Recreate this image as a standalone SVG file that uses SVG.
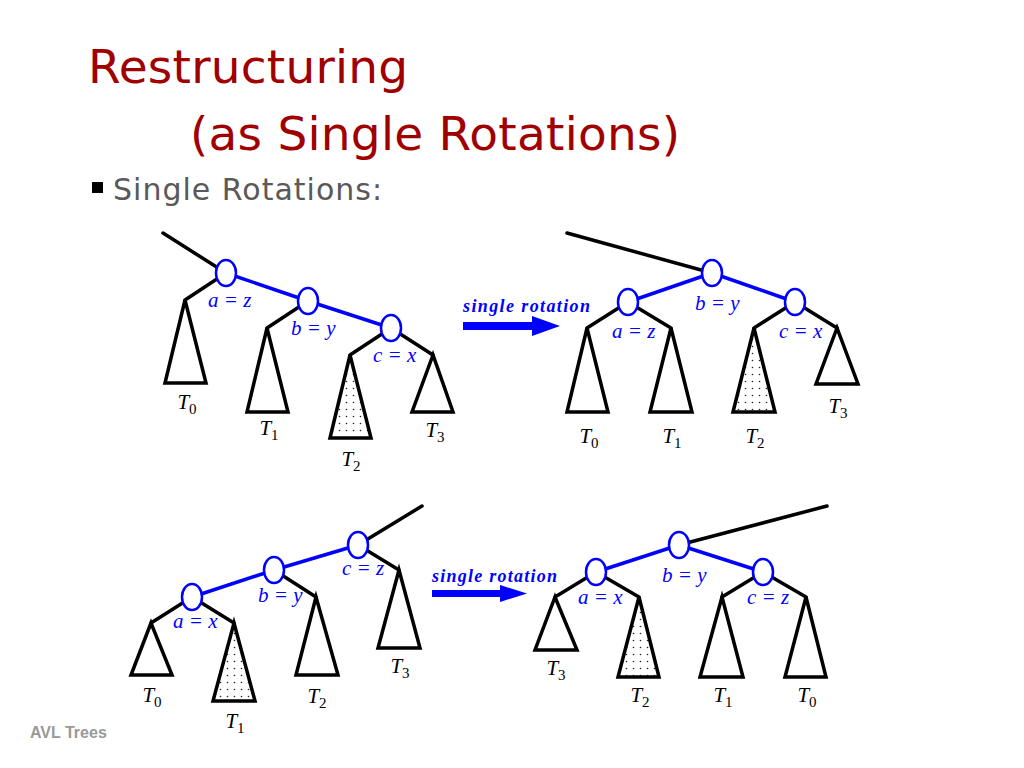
<svg xmlns="http://www.w3.org/2000/svg" width="1024" height="768" viewBox="0 0 1024 768">
<defs>
<pattern id="dots" width="7" height="7" patternUnits="userSpaceOnUse">
<rect width="7" height="7" fill="#ffffff"/>
<circle cx="3.5" cy="3.5" r="0.8" fill="#222222"/>
</pattern>
<style>
.title{font-family:"DejaVu Sans","Open Sans",sans-serif;fill:#A00000;font-size:47px}
.bullet{font-family:"DejaVu Sans","Open Sans",sans-serif;fill:#595959;font-size:30px}
.foot{font-family:"Liberation Sans",Arial,sans-serif;font-weight:bold;fill:#999999;font-size:16px}
.blk{stroke:#000;stroke-width:3.5;fill:none;stroke-linecap:round}
.blu{stroke:#0000ff;stroke-width:3.5;fill:none}
.tri{stroke:#000;stroke-width:3.5;fill:#fff;stroke-linejoin:miter}
.dot{stroke:#000;stroke-width:3.5;fill:url(#dots)}
.node{stroke:#0000ff;stroke-width:2.5;fill:#fff}
.lab{font-family:"Liberation Serif","Times New Roman",serif;font-style:italic;fill:#0000ff;font-size:21px}
.tl{font-family:"Liberation Serif","Times New Roman",serif;fill:#000;font-size:21px;text-anchor:middle}
.tl .s{font-size:15px;font-style:normal}
.rot{font-family:"Liberation Serif","Times New Roman",serif;font-style:italic;font-weight:bold;fill:#0000ff;font-size:18px}
.arr{fill:#0000ff}
</style>
</defs>
<rect width="1024" height="768" fill="#ffffff"/>

<text class="title" x="88" y="83" textLength="320">Restructuring</text>
<text class="title" x="190" y="150" textLength="490">(as Single Rotations)</text>
<rect x="92" y="182" width="11" height="11" fill="#000"/>
<text class="bullet" x="113" y="200" textLength="269">Single Rotations:</text>
<text class="foot" x="30" y="738">AVL Trees</text>

<g id="connectors">
<!-- top-left -->
<line class="blk" x1="163" y1="233" x2="226" y2="273"/>
<line class="blk" x1="226" y1="273" x2="185" y2="300"/>
<line class="blk" x1="308" y1="301" x2="267" y2="328"/>
<line class="blk" x1="391" y1="328" x2="350" y2="355"/>
<line class="blk" x1="391" y1="328" x2="433" y2="355"/>
<line class="blu" x1="226" y1="273" x2="308" y2="301"/>
<line class="blu" x1="308" y1="301" x2="391" y2="328"/>
<!-- top-right -->
<line class="blk" x1="567" y1="233" x2="712" y2="273"/>
<line class="blk" x1="628" y1="302" x2="587" y2="328"/>
<line class="blk" x1="628" y1="302" x2="671" y2="328"/>
<line class="blk" x1="795" y1="302" x2="754" y2="328"/>
<line class="blk" x1="795" y1="302" x2="837" y2="328"/>
<line class="blu" x1="712" y1="273" x2="628" y2="302"/>
<line class="blu" x1="712" y1="273" x2="795" y2="302"/>
<!-- bottom-left -->
<line class="blk" x1="358" y1="545" x2="422" y2="506"/>
<line class="blk" x1="192" y1="597" x2="151" y2="623"/>
<line class="blk" x1="192" y1="597" x2="234" y2="623"/>
<line class="blk" x1="274" y1="570" x2="316" y2="597"/>
<line class="blk" x1="358" y1="545" x2="399" y2="570"/>
<line class="blu" x1="192" y1="597" x2="274" y2="570"/>
<line class="blu" x1="274" y1="570" x2="358" y2="545"/>
<!-- bottom-right -->
<line class="blk" x1="679" y1="545" x2="827" y2="506"/>
<line class="blk" x1="596" y1="572" x2="555" y2="597"/>
<line class="blk" x1="596" y1="572" x2="639" y2="597"/>
<line class="blk" x1="763" y1="572" x2="722" y2="597"/>
<line class="blk" x1="763" y1="572" x2="806" y2="597"/>
<line class="blu" x1="679" y1="545" x2="596" y2="572"/>
<line class="blu" x1="679" y1="545" x2="763" y2="572"/>
</g>

<!-- top-left tree -->
<g id="tl-T0"><polygon class="tri" points="185,300 165,383 206,383"/><text class="tl" x="187" y="409"><tspan font-style="italic">T</tspan><tspan class="s" dy="5">0</tspan></text></g>
<g id="tl-T1"><polygon class="tri" points="267,328 247,412 288,412"/><text class="tl" x="269" y="435"><tspan font-style="italic">T</tspan><tspan class="s" dy="5">1</tspan></text></g>
<g id="tl-T2"><polygon class="dot" points="350,355 330,438 371,438"/><text class="tl" x="351" y="466"><tspan font-style="italic">T</tspan><tspan class="s" dy="5">2</tspan></text></g>
<g id="tl-T3"><polygon class="tri" points="433,355 412,412 453,412"/><text class="tl" x="435" y="437"><tspan font-style="italic">T</tspan><tspan class="s" dy="5">3</tspan></text></g>
<g id="tl-a"><ellipse class="node" cx="226" cy="273" rx="10" ry="13"/><text class="lab" x="208" y="307">a = z</text></g>
<g id="tl-b"><ellipse class="node" cx="308" cy="301" rx="10" ry="13"/><text class="lab" x="291" y="335">b = y</text></g>
<g id="tl-c"><ellipse class="node" cx="391" cy="328" rx="10" ry="13"/><text class="lab" x="373" y="362">c = x</text></g>

<!-- top arrow -->
<g id="arrow-top">
<text class="rot" x="463" y="312" textLength="127">single rotation</text>
<polygon class="arr" points="463,322 532,322 532,316 560,326 532,336 532,330 463,330"/>
</g>

<!-- top-right tree -->
<g id="tr-T0"><polygon class="tri" points="587,328 567,412 608,412"/><text class="tl" x="589" y="443"><tspan font-style="italic">T</tspan><tspan class="s" dy="5">0</tspan></text></g>
<g id="tr-T1"><polygon class="tri" points="671,328 650,412 692,412"/><text class="tl" x="672" y="443"><tspan font-style="italic">T</tspan><tspan class="s" dy="5">1</tspan></text></g>
<g id="tr-T2"><polygon class="dot" points="754,328 733,412 775,412"/><text class="tl" x="755" y="443"><tspan font-style="italic">T</tspan><tspan class="s" dy="5">2</tspan></text></g>
<g id="tr-T3"><polygon class="tri" points="837,328 816,384 858,384"/><text class="tl" x="838" y="413"><tspan font-style="italic">T</tspan><tspan class="s" dy="5">3</tspan></text></g>
<g id="tr-b"><ellipse class="node" cx="712" cy="273" rx="10" ry="13"/><text class="lab" x="695" y="310">b = y</text></g>
<g id="tr-a"><ellipse class="node" cx="628" cy="302" rx="10" ry="13"/><text class="lab" x="612" y="338">a = z</text></g>
<g id="tr-c"><ellipse class="node" cx="795" cy="302" rx="10" ry="13"/><text class="lab" x="779" y="338">c = x</text></g>

<!-- bottom-left tree -->
<g id="bl-T0"><polygon class="tri" points="151,623 131,675 172,675"/><text class="tl" x="152" y="702"><tspan font-style="italic">T</tspan><tspan class="s" dy="5">0</tspan></text></g>
<g id="bl-T1"><polygon class="dot" points="234,623 213,701 255,701"/><text class="tl" x="235" y="728"><tspan font-style="italic">T</tspan><tspan class="s" dy="5">1</tspan></text></g>
<g id="bl-T2"><polygon class="tri" points="316,597 296,675 338,675"/><text class="tl" x="317" y="703"><tspan font-style="italic">T</tspan><tspan class="s" dy="5">2</tspan></text></g>
<g id="bl-T3"><polygon class="tri" points="399,570 378,648 420,648"/><text class="tl" x="400" y="673"><tspan font-style="italic">T</tspan><tspan class="s" dy="5">3</tspan></text></g>
<g id="bl-a"><ellipse class="node" cx="192" cy="597" rx="10" ry="13"/><text class="lab" x="173" y="628">a = x</text></g>
<g id="bl-b"><ellipse class="node" cx="274" cy="570" rx="10" ry="13"/><text class="lab" x="258" y="602">b = y</text></g>
<g id="bl-c"><ellipse class="node" cx="358" cy="545" rx="10" ry="13"/><text class="lab" x="342" y="575">c = z</text></g>

<!-- bottom arrow -->
<g id="arrow-bottom">
<text class="rot" x="432" y="582" textLength="125">single rotation</text>
<polygon class="arr" points="432,590 500,590 500,585 527,593.5 500,602 500,597 432,597"/>
</g>

<!-- bottom-right tree -->
<g id="br-T3"><polygon class="tri" points="555,597 535,650 577,650"/><text class="tl" x="556" y="675"><tspan font-style="italic">T</tspan><tspan class="s" dy="5">3</tspan></text></g>
<g id="br-T2"><polygon class="dot" points="639,597 618,677 659,677"/><text class="tl" x="640" y="702"><tspan font-style="italic">T</tspan><tspan class="s" dy="5">2</tspan></text></g>
<g id="br-T1"><polygon class="tri" points="722,597 700,677 743,677"/><text class="tl" x="723" y="702"><tspan font-style="italic">T</tspan><tspan class="s" dy="5">1</tspan></text></g>
<g id="br-T0"><polygon class="tri" points="806,597 785,677 826,677"/><text class="tl" x="807" y="702"><tspan font-style="italic">T</tspan><tspan class="s" dy="5">0</tspan></text></g>
<g id="br-b"><ellipse class="node" cx="679" cy="545" rx="10" ry="13"/><text class="lab" x="662" y="582">b = y</text></g>
<g id="br-a"><ellipse class="node" cx="596" cy="572" rx="10" ry="13"/><text class="lab" x="578" y="604">a = x</text></g>
<g id="br-c"><ellipse class="node" cx="763" cy="572" rx="10" ry="13"/><text class="lab" x="747" y="604">c = z</text></g>
</svg>
